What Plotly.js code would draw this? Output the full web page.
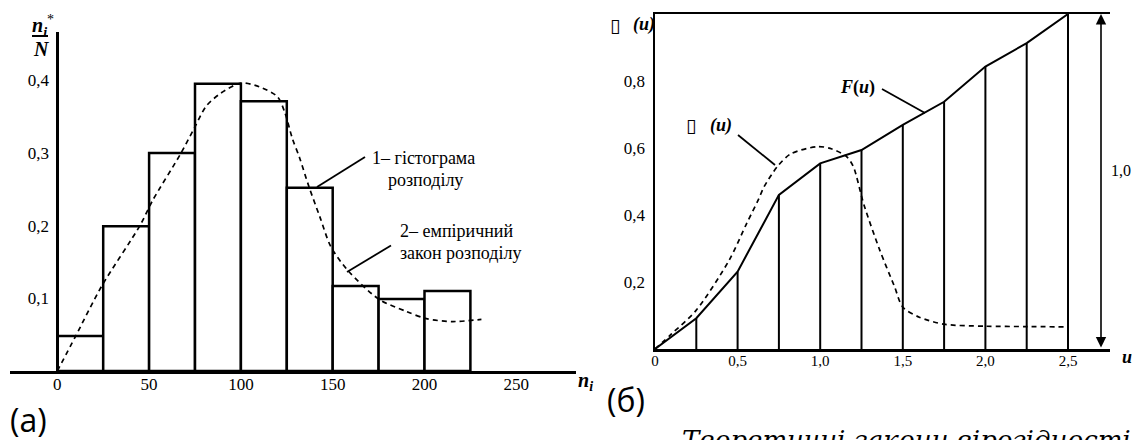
<!DOCTYPE html>
<html>
<head>
<meta charset="utf-8">
<script src="https://cdn.plot.ly/plotly-3.0.1.min.js"></script>
<style>
html,body{margin:0;padding:0;background:#fff;}
#chart{width:1135px;height:440px;}
</style>
</head>
<body>
<div id="chart"></div>
<script>
// ---------- data: (a) histogram ----------
const binStart = [0, 25, 50, 75, 100, 125, 150, 175, 200];
const binWidth = 25;
const histFreq = [0.048, 0.199, 0.300, 0.395, 0.371, 0.252, 0.117, 0.099, 0.110];
// empirical distribution law (dashed)
const lawN = [0, 10, 24, 45, 52, 67, 75, 81, 89, 100, 110, 120, 124, 128, 132, 137, 143, 149, 158, 175, 190, 201, 215, 231];
const lawV = [0, 0.048, 0.116, 0.200, 0.235, 0.298, 0.336, 0.364, 0.382, 0.396, 0.391, 0.377, 0.355, 0.320, 0.293, 0.254, 0.212, 0.171, 0.139, 0.099, 0.082, 0.072, 0.068, 0.071];
const xTicksA = [0, 50, 100, 150, 200, 250];
const xLabelsA = ['0', '50', '100', '150', '200', '250'];
const yTicksA = [0.1, 0.2, 0.3, 0.4];
const yLabelsA = ['0,1', '0,2', '0,3', '0,4'];

// ---------- data: (б) F(u) and density ----------
const uPts = [0, 0.25, 0.5, 0.75, 1.0, 1.25, 1.5, 1.75, 2.0, 2.25, 2.5];
const FPts = [0, 0.092, 0.231, 0.460, 0.554, 0.594, 0.669, 0.738, 0.843, 0.913, 1.0];
const phiU = [0, 0.1, 0.25, 0.45, 0.555, 0.625, 0.66, 0.74, 0.82, 0.98, 1.06, 1.16, 1.2, 1.265, 1.36, 1.45, 1.5, 1.6, 1.75, 2.0, 2.25, 2.49];
const phiV = [0, 0.045, 0.116, 0.266, 0.375, 0.445, 0.484, 0.544, 0.582, 0.604, 0.599, 0.574, 0.545, 0.43, 0.296, 0.186, 0.125, 0.095, 0.074, 0.068, 0.067, 0.066];
const xTicksB = [0, 0.5, 1.0, 1.5, 2.0, 2.5];
const xLabelsB = ['0', '0,5', '1,0', '1,5', '2,0', '2,5'];
const yTicksB = [0.2, 0.4, 0.6, 0.8];
const yLabelsB = ['0,2', '0,4', '0,6', '0,8'];

// ---------- geometry helpers ----------
const W = 1135, H = 440;
const px = v => v / W;
const py = v => 1 - v / H;

const serif = 'Liberation Serif';
const tickFont = {family: serif, size: 17, color: '#000'};

// vertical ordinates under F(u)
const vx = [], vy = [];
uPts.slice(1).forEach((u, i) => { vx.push(u, u, null); vy.push(0, FPts[i + 1], null); });

const traces = [
  {type: 'bar', x: binStart, y: histFreq, width: binWidth, offset: 0,
   marker: {color: '#fff', line: {color: '#000', width: 2.5}},
   xaxis: 'x', yaxis: 'y', hoverinfo: 'skip'},
  {type: 'scatter', mode: 'lines', x: lawN, y: lawV,
   line: {color: '#000', width: 1.7, dash: '5px,4px', shape: 'spline', smoothing: 0.8},
   xaxis: 'x', yaxis: 'y', hoverinfo: 'skip'},
  {type: 'scatter', mode: 'lines', x: vx, y: vy, connectgaps: false,
   line: {color: '#000', width: 2},
   xaxis: 'x2', yaxis: 'y2', hoverinfo: 'skip'},
  {type: 'scatter', mode: 'lines', x: uPts, y: FPts,
   line: {color: '#000', width: 2},
   xaxis: 'x2', yaxis: 'y2', hoverinfo: 'skip'},
  {type: 'scatter', mode: 'lines', x: phiU, y: phiV,
   line: {color: '#000', width: 1.7, dash: '5px,4px', shape: 'spline', smoothing: 0.8},
   xaxis: 'x2', yaxis: 'y2', hoverinfo: 'skip'}
];

const lineShape = (x0, y0, x1, y1, w) => ({type: 'line', xref: 'paper', yref: 'paper',
  x0: px(x0), y0: py(y0), x1: px(x1), y1: py(y1), line: {color: '#000', width: w || 1.8}});

const ann = (x, y, text, opts) => Object.assign({xref: 'paper', yref: 'paper', x: px(x), y: py(y),
  text: text, showarrow: false, xanchor: 'left', yanchor: 'middle', borderpad: 0,
  font: {family: serif, size: 18, color: '#000'}}, opts || {});

const layout = {
  width: W, height: H,
  margin: {l: 0, r: 0, t: 0, b: 0},
  paper_bgcolor: '#fff', plot_bgcolor: 'rgba(0,0,0,0)',
  font: {family: serif, color: '#000'},
  showlegend: false, barmode: 'overlay',
  xaxis: {domain: [px(10), px(576)], range: [(10 - 57.3) / 1.836, (576 - 57.3) / 1.836],
    anchor: 'y', showline: true, linecolor: '#000', linewidth: 2.5, zeroline: false, showgrid: false,
    ticks: '', tickvals: xTicksA, ticktext: xLabelsA, tickfont: tickFont, ticklabelstandoff: -4, fixedrange: true},
  yaxis: {domain: [py(371), py(32)], range: [0, (371 - 32) / 727],
    anchor: 'free', position: px(57.3), showline: true, linecolor: '#000', linewidth: 2.5,
    zeroline: false, showgrid: false, ticks: '', tickvals: yTicksA, ticktext: yLabelsA, tickfont: tickFont,
    ticklabelstandoff: 4, fixedrange: true},
  xaxis2: {domain: [px(655), px(1110)], range: [0, (1110 - 655) / 165.2],
    anchor: 'y2', showline: true, mirror: true, linecolor: '#000', linewidth: 2.5, zeroline: false, showgrid: false,
    ticks: '', tickvals: xTicksB, ticktext: xLabelsB, tickfont: {family: serif, size: 15, color: '#000'},
    ticklabelstandoff: -4, fixedrange: true},
  yaxis2: {domain: [py(349), py(14)], range: [0, 1.0],
    anchor: 'x2', showline: true, linecolor: '#000', linewidth: 2.5, zeroline: false, showgrid: false,
    ticks: '', tickvals: yTicksB, ticktext: yLabelsB, tickfont: tickFont, ticklabelstandoff: 4, fixedrange: true},
  shapes: [
    lineShape(365, 157, 317, 187),
    lineShape(391, 245.5, 347, 272),
    lineShape(738, 135, 775, 165),
    lineShape(882, 89, 925, 113),
    lineShape(32, 36, 48, 36, 2)
  ],
  annotations: [
    // (a) y label (fraction n_i* / N)
    ann(31, 41, '<b><i>n<sub>i</sub></i></b><sup>*</sup>', {yanchor: 'bottom', font: {family: serif, size: 20, color: '#000'}}),
    ann(32, 37.5, '<b><i>N</i></b>', {yanchor: 'top', font: {family: serif, size: 20, color: '#000'}}),
    // (a) x label
    ann(577, 381, '<b><i>n<sub>i</sub></i></b>', {font: {family: serif, size: 20, color: '#000'}}),
    // (a) legend texts
    ann(371, 158, '1– гістограма'),
    ann(387, 180, 'розподілу'),
    ann(399, 231, '2– емпіричний'),
    ann(399, 253, 'закон розподілу'),
    // (б) labels
    ann(609, 25, '▯', {font: {family: 'DejaVu Sans', size: 19, color: '#000'}}),
    ann(632, 25, '<b><i>(u)</i></b>', {font: {family: serif, size: 18, color: '#000'}}),
    ann(685, 125, '▯', {font: {family: 'DejaVu Sans', size: 19, color: '#000'}}),
    ann(709, 125, '<b><i>(u)</i></b>', {font: {family: serif, size: 18, color: '#000'}}),
    ann(839, 87, '<b><i>F</i>(<i>u</i>)</b>', {font: {family: serif, size: 18, color: '#000'}}),
    ann(1121, 357, '<b><i>u</i></b>', {font: {family: serif, size: 18, color: '#000'}}),
    ann(1121, 170, '1,0', {xanchor: 'center', font: {family: serif, size: 16, color: '#000'}}),
    // double arrow 1,0
    {xref: 'x2', yref: 'y2', axref: 'x2', ayref: 'y2', x: (1101 - 655) / 165.2, y: 1.0,
     ax: (1101 - 655) / 165.2, ay: 0, text: '', showarrow: true, arrowside: 'end+start',
     arrowhead: 2, arrowsize: 1.3, arrowwidth: 1.6, arrowcolor: '#000', standoff: 0, startstandoff: 0},
    // captions
    ann(9, 419, '(а)', {font: {family: 'Open Sans', size: 32, color: '#000'}}),
    ann(606, 399, '(б)', {font: {family: 'Open Sans', size: 32, color: '#000'}}),
    ann(681, 440, '<i>Теоретичні закони вірогідності</i>', {font: {family: 'DejaVu Serif', size: 26, color: '#000'}})
  ]
};

Plotly.newPlot('chart', traces, layout, {staticPlot: true, displayModeBar: false});
</script>
</body>
</html>
